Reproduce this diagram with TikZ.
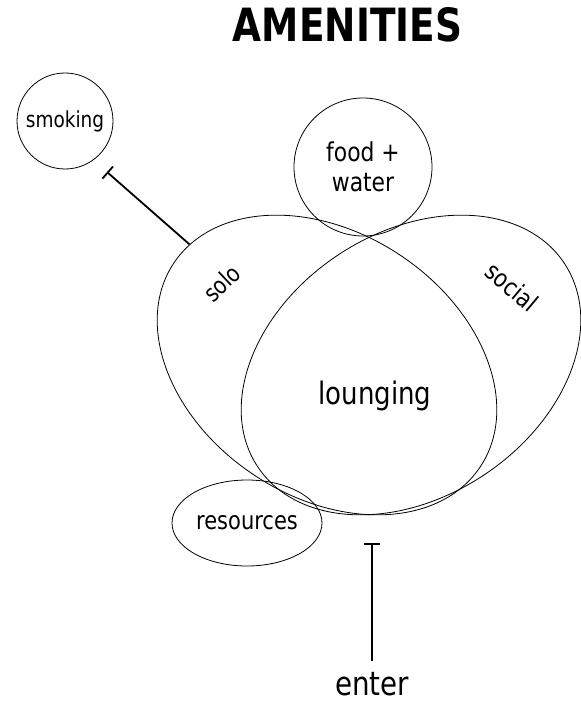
\documentclass[tikz,border=0pt]{standalone}
\usepackage{graphicx}
\usepackage{fontspec}
\setmainfont{DejaVu Sans}[FakeStretch=0.84]
\newfontfamily\titlefont{DejaVu Sans}
\usetikzlibrary{shapes.geometric,arrows.meta}
\tikzset{
  zone/.style={draw, ellipse, inner sep=0pt, line width=0.8bp},
  bubble/.style={draw, circle, inner sep=0pt, line width=0.8bp},
  link/.style={line width=1.8bp, -{Bar[width=16bp,line width=1.8bp]}},
  lbl/.style={inner sep=0pt, text=black}
}
\newcommand{\fsz}[1]{\fontsize{#1bp}{#1bp}\selectfont}
\begin{document}
\begin{tikzpicture}[x=1bp,y=-1bp]
\useasboundingbox (0,0) rectangle (581,702);

% title
\node[lbl] (title) at (347.5,25) {\resizebox{229bp}{34bp}{\titlefont\bfseries AMENITIES}};

% the two overlapping lounge zones
\node[zone, rotate=-33.6, minimum width=368bp, minimum height=264bp] (solo) at (327,365) {};
\node[zone, rotate=33.6, minimum width=368bp, minimum height=264bp] (social) at (411,365) {};

% satellite areas
\node[bubble, minimum size=138bp, font=\fsz{26}, align=center] (food) at (363,167) {food +\\[4bp]water};
\node[bubble, minimum size=96bp, font=\fsz{22}] (smoking) at (65,121) {smoking};
\node[zone, minimum width=150bp, minimum height=86bp, font=\fsz{25}] (resources) at (247,523) {resources};

% zone labels
\node[lbl, rotate=43, font=\fsz{24}] (sololbl) at (222,283) {solo};
\node[lbl, rotate=-40, font=\fsz{25}] (sociallbl) at (512,287) {social};
\node[lbl, font=\fsz{31}, anchor=base] (lounging) at (375,404) {lounging};

% entrance
\node[lbl, font=\fsz{33}, anchor=base, text depth=0bp] (enter) at (372,695) {enter};
\coordinate (door) at (372,543);
\coordinate (smokingend) at (107,172);

% connectors
\draw[link] (solo) -- (smokingend);
\draw[link, shorten <=11bp] (enter) -- (door);
\end{tikzpicture}
\end{document}
